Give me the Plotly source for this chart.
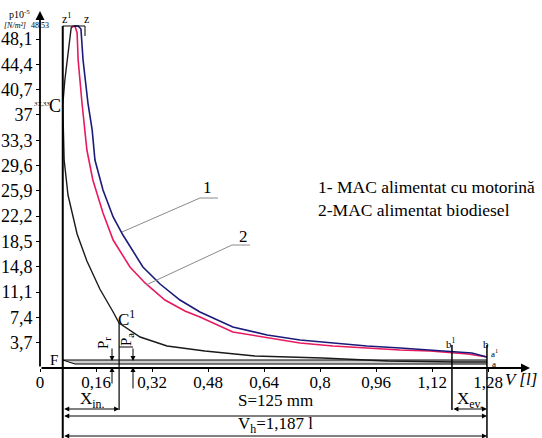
import plotly.graph_objects as go

W, H = 542, 438        # picture size
X0, KX = 40, 350.0     # pixel of V=0 and pixels per litre
Y0, KY = 368, 6.84     # pixel of p=0 and pixels per unit of p


def X(px):
    return (px - X0) / KX


def Y(py):
    return (Y0 - py) / KY


# ---------------- data ----------------
x_ticks = [0, 0.16, 0.32, 0.48, 0.64, 0.8, 0.96, 1.12, 1.28]
x_labels = ["0", "0,16", "0,32", "0,48", "0,64", "0,8", "0,96", "1,12", "1,28"]
y_ticks = [3.7, 7.4, 11.1, 14.8, 18.5, 22.2, 25.9, 29.6, 33.3, 37.0, 40.7, 44.4, 48.1]
y_labels = ["3,7", "7,4", "11,1", "14,8", "18,5", "22,2", "25,9", "29,6", "33,3",
            "37", "40,7", "44,4", "48,1"]

V_c = 0.065    # TDC volume
V_a = 1.277    # BDC volume
V_c1 = 0.226   # point C1
V_b1 = 1.177   # point b1
p_z = 50.0     # top line z1-z

# curve 1 - MAC alimentat cu motorina (blue)
V1 = [0.097, 0.109, 0.117, 0.123, 0.137, 0.149, 0.157, 0.180, 0.209, 0.237, 0.294,
      0.343, 0.400, 0.457, 0.551, 0.649, 0.743, 0.837, 0.934, 1.029, 1.114, 1.177,
      1.234, 1.277]
p1 = [50.0, 50.0, 49.56, 45.03, 38.74, 34.80, 30.41, 26.02, 22.08, 19.44, 14.77,
      12.28, 9.94, 8.19, 6.00, 4.82, 4.09, 3.65, 3.22, 2.92, 2.63, 2.49, 2.19, 1.61]

# curve 2 - MAC alimentat biodiesel (pink)
V2 = [0.091, 0.100, 0.106, 0.109, 0.120, 0.129, 0.134, 0.151, 0.180, 0.209, 0.257,
      0.300, 0.357, 0.414, 0.457, 0.551, 0.649, 0.743, 0.837, 0.934, 1.029, 1.114,
      1.177, 1.223, 1.277]
p2 = [49.85, 50.0, 48.98, 45.03, 38.74, 34.80, 31.87, 27.49, 22.66, 18.71, 14.77,
      12.43, 9.94, 8.33, 7.46, 5.26, 4.39, 3.65, 3.22, 2.92, 2.63, 2.49, 2.19, 2.05, 1.61]

# compression + combustion line a -> C1 -> C -> z1 (black)
Vk = [1.277, 1.186, 0.994, 0.806, 0.614, 0.471, 0.363, 0.286, 0.226, 0.209, 0.171,
      0.134, 0.106, 0.080, 0.069, 0.065, 0.071, 0.080, 0.089, 0.094]
pk = [0.88, 0.88, 1.02, 1.46, 1.75, 2.49, 3.22, 4.53, 6.58, 8.19, 11.55, 15.64,
      19.59, 25.29, 30.41, 38.45, 42.11, 46.05, 49.71, 50.0]

# exhaust / intake lines
exh_V = [V_c, V_a]
exh_p = [1.17, 1.17]
int_V = [V_c, 0.10, V_a]
int_p = [1.17, 0.58, 0.58]

SERIF = "Liberation Serif, Times New Roman, DejaVu Serif, serif"

fig = go.Figure()

fig.add_trace(go.Scatter(x=exh_V, y=exh_p, mode="lines",
                         line=dict(color="black", width=1)))
fig.add_trace(go.Scatter(x=int_V, y=int_p, mode="lines", fill="tonexty",
                         fillcolor="#cfcfcf", line=dict(color="black", width=1)))
fig.add_trace(go.Scatter(x=Vk, y=pk, mode="lines",
                         line=dict(color="#1a1a1a", width=1.4)))
fig.add_trace(go.Scatter(x=V2, y=p2, mode="lines",
                         line=dict(color="#e8195e", width=1.6)))
fig.add_trace(go.Scatter(x=V1, y=p1, mode="lines",
                         line=dict(color="#1b1a7a", width=1.6)))

shapes = []


def seg(x0, y0, x1, y1, color="black", width=1):
    shapes.append(dict(type="line", xref="x", yref="y", x0=x0, y0=y0, x1=x1, y1=y1,
                       line=dict(color=color, width=width)))


# TDC and BDC vertical lines
seg(V_c, p_z, V_c, Y(438), width=2)
seg(V_a, Y(345), V_a, Y(438), width=1.5)
# z1 - z top box
seg(V_c, p_z, X(85), p_z, width=1)
seg(X(85), p_z, X(85), Y(36), width=1)
# C1 and b1 verticals
seg(V_c1, Y(323), V_c1, Y(410), width=1.2)
seg(V_b1, Y(345), V_b1, Y(410), width=1.5)
# Pa bracket
seg(V_c1, Y(347), X(133), Y(347), width=1)
# leaders 1 and 2
seg(X(122), Y(232), X(200), Y(198), color="#8a8a8a", width=1)
seg(X(200), Y(198), X(218), Y(198), color="#8a8a8a", width=1)
seg(X(146), Y(285), X(232), Y(245), color="#8a8a8a", width=1)
seg(X(232), Y(245), X(250), Y(245), color="#8a8a8a", width=1)

annotations = []


def arrow(xh, yh, xt, yt, width=1, head=2, side="end", size=1):
    annotations.append(dict(x=xh, y=yh, ax=xt, ay=yt, xref="x", yref="y",
                            axref="x", ayref="y", text="", showarrow=True,
                            arrowhead=head, arrowsize=size, arrowwidth=width,
                            arrowside=side, arrowcolor="black", startarrowhead=head,
                            startarrowsize=size))


def text(px, py, s, size=16, italic=False, angle=0, xanchor="center", color="black"):
    annotations.append(dict(x=X(px), y=Y(py), xref="x", yref="y", text=s,
                            showarrow=False, textangle=angle, xanchor=xanchor,
                            yanchor="middle",
                            font=dict(family=SERIF, size=size, color=color,
                                      style="italic" if italic else "normal")))


# axes with arrows
arrow(X(40), Y(11), X(40), Y(368), width=1.8, head=2)
arrow(X(530), Y(368), X(40), Y(368), width=1.8, head=2)

# dimension arrows
arrow(V_c1, Y(409), V_c, Y(409), width=1, side="end+start", head=2)
arrow(V_a, Y(409), V_b1, Y(409), width=1, side="end+start", head=2)
arrow(V_a, Y(416), V_c, Y(416), width=1, side="end+start", head=2)
arrow(V_a, Y(436), V_c, Y(436), width=1, side="end+start", head=2)
# Pr / Pa arrows
arrow(X(112), Y(361), X(112), Y(347), width=1, head=2)
arrow(X(112), Y(367), X(112), Y(385), width=1, head=2)
arrow(X(133), Y(361), X(133), Y(347), width=1, head=2)
arrow(X(133), Y(367), X(133), Y(390), width=1, head=2)

# texts
text(19, 14, "p10<sup>-5</sup>", size=10)
text(15, 25, "[N/m²]", size=8, italic=True)
text(40, 25, "48,53", size=8)
text(41, 104, "37,33", size=7, italic=True)
text(55, 106, "C", size=18)
text(67, 18, "z<sup>1</sup>", size=12)
text(86, 19, "z", size=12)
text(126, 318, "C<sup>1</sup>", size=17)
text(54, 360, "F", size=15)
text(104, 343, "P<sub>r</sub>", size=15, angle=-90)
text(127, 340, "P<sub>a</sub>", size=15, angle=-90)
text(451, 343, "b<sup>1</sup>", size=11)
text(486, 344, "b", size=11)
text(494, 353, "a<sup>1</sup>", size=9)
text(494, 364, "a", size=9)
text(207, 187, "1", size=17)
text(243, 236, "2", size=17)
text(316, 187, "1- MAC alimentat cu motorină", size=17.5, xanchor="left")
text(316, 210, "2-MAC alimentat biodiesel", size=17.5, xanchor="left")
text(521, 379, "<i>V [l]</i>", size=17)
text(92, 400, "X<sub>in.</sub>", size=17)
text(470, 400, "X<sub>ev.</sub>", size=17)
text(275, 400, "S=125 mm", size=17)
text(275, 425, "V<sub>h</sub>=1,187 l", size=17)

fig.update_layout(
    width=W, height=H, margin=dict(l=0, r=0, t=0, b=0, pad=0),
    plot_bgcolor="white", paper_bgcolor="white", showlegend=False,
    shapes=shapes, annotations=annotations,
    xaxis=dict(range=[X(0), X(W)], showgrid=False, zeroline=False, showline=False,
               tickmode="array", tickvals=x_ticks, ticktext=x_labels,
               ticks="outside", ticklen=3, tickwidth=1.2, tickcolor="black",
               ticklabelstandoff=-4,
               anchor="free", position=(H - Y0) / H, automargin=False,
               tickfont=dict(family=SERIF, size=17, color="black")),
    yaxis=dict(range=[Y(H), Y(0)], showgrid=False, zeroline=False, showline=False,
               tickmode="array", tickvals=y_ticks, ticktext=y_labels,
               ticks="outside", ticklen=4, tickwidth=1.2, tickcolor="black",
               anchor="free", position=X0 / W, automargin=False,
               tickfont=dict(family=SERIF, size=18, color="black")),
)

fig.write_html(
    "out.html",
    config={"displayModeBar": False},
    post_script="document.body.style.margin='0';document.body.style.overflow='hidden';",
)
